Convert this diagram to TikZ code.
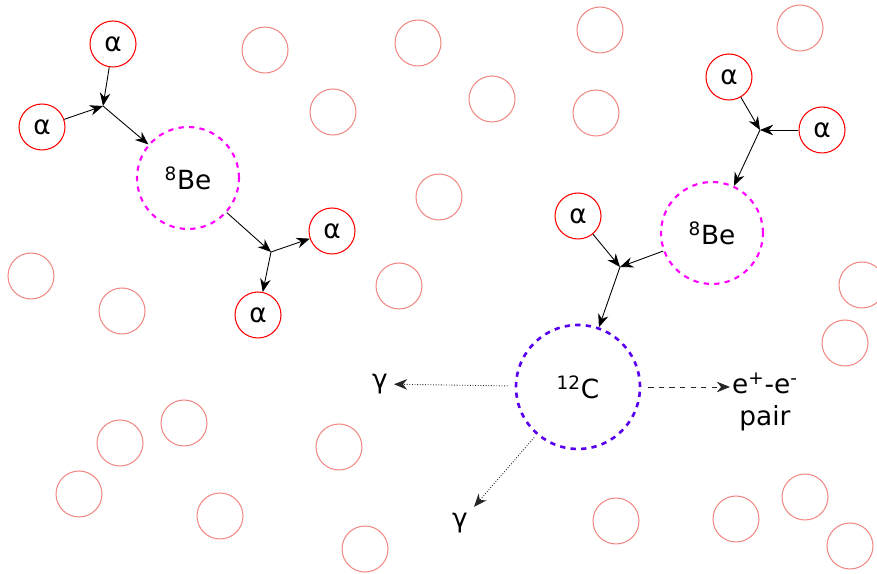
\documentclass[tikz,border=0pt]{standalone}
\usepackage{fontspec}
\setmainfont{DejaVu Sans}
\usepackage{xcolor}
\usepackage{tikz}
\usetikzlibrary{arrows.meta, positioning, calc}
\definecolor{paleatom}{HTML}{F08A84}
\definecolor{beline}{HTML}{FF00FF}
\definecolor{cline}{HTML}{5A00F0}

\begin{document}
\begin{tikzpicture}[
  x=0.02cm, y=-0.02cm,
  font=\fontsize{15}{18}\selectfont,
  atom/.style={circle, draw=paleatom, line width=0.6pt, minimum size=0.92cm, inner sep=0pt},
  alpha/.style={circle, draw=red, line width=0.6pt, minimum size=0.92cm, inner sep=0pt},
  beryl/.style={circle, draw=beline, line width=1.2pt, dashed, minimum size=2.04cm, inner sep=0pt},
  carbon/.style={circle, draw=cline, line width=1.5pt, dashed, minimum size=2.48cm, inner sep=0pt},
  arr/.style={-{Stealth[length=7.5pt, width=6pt]}, line width=0.5pt},
  emit/.style={-{Stealth[length=7.5pt, width=6pt]}, line width=0.5pt, densely dotted, black!85},
]
  \useasboundingbox (0,0) rectangle (877,574);

  % background nuclei
  \foreach \px/\py [count=\i] in {265/50, 418/43, 600/30, 800/28, 333/112, 492/99,
      596/113, 439/197, 31/276, 122/311, 399/286, 862/285, 845/343, 184/423,
      120/443, 339/447, 79/494, 220/516, 365/549, 616/521, 736/519, 805/497, 850/546}
    \node[atom] (bg\i) at (\px,\py) {};

  % first step: two alphas -> 8Be -> two alphas
  \node[alpha] (a1) at (113,44) {α};
  \node[alpha] (a2) at (42,127) {α};
  \coordinate (j1) at (103,106);
  \node[beryl] (be1) at (188,178) {\textsuperscript{8}Be};
  \coordinate (j2) at (271,252);
  \node[alpha] (a3) at (332,231) {α};
  \node[alpha] (a4) at (258,315) {α};

  \draw[arr] (a1) -- (j1);
  \draw[arr] (a2) -- (j1);
  \draw[arr] (j1) -- (be1);
  \draw[arr] (be1) -- (j2);
  \draw[arr] (j2) -- (a3);
  \draw[arr] (j2) -- (a4);

  % second step: 8Be + alpha -> 12C
  \node[alpha] (a5) at (729,77) {α};
  \node[alpha] (a6) at (822,130) {α};
  \coordinate (j3) at (760,130);
  \node[beryl] (be2) at (712,233) {\textsuperscript{8}Be};
  \node[alpha] (a7) at (578,216) {α};
  \coordinate (j4) at (620,267);
  \node[carbon] (c12) at (578,387) {\textsuperscript{12}C};

  \draw[arr] (a5) -- (j3);
  \draw[arr] (a6) -- (j3);
  \draw[arr] (j3) -- (be2);
  \draw[arr] (a7) -- (j4);
  \draw[arr] (be2) -- (j4);
  \draw[arr] (j4) -- (c12);

  % decay channels
  \node (g1) at (380,384) {γ};
  \node (g2) at (460,523) {γ};
  \node[align=center, inner sep=1pt] (pair) at (765,402) {e\textsuperscript{+}-e\textsuperscript{-}\\pair};

  \draw[emit, shorten <=4pt] (c12) -- (g1);
  \draw[emit, shorten <=2pt] (c12) -- (g2);
  \draw[arr, dashed, black!85, shorten <=4pt] (c12) -- (c12 -| pair.west);
\end{tikzpicture}
\end{document}
